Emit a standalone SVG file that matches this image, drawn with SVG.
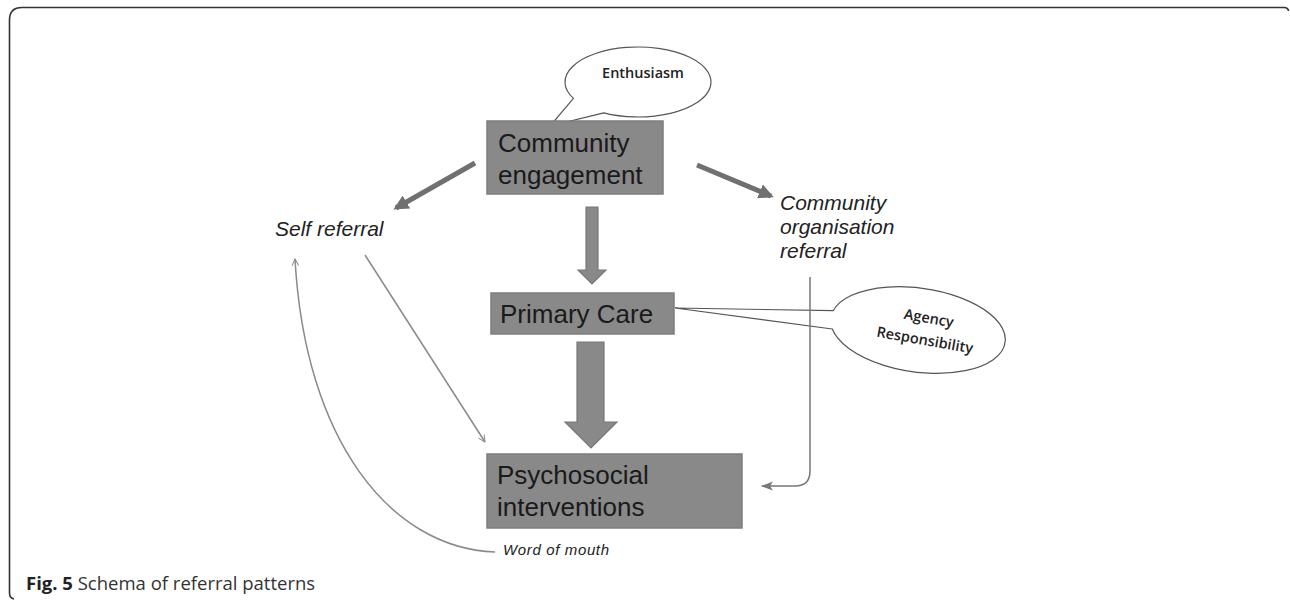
<svg xmlns="http://www.w3.org/2000/svg" width="1290" height="601" viewBox="0 0 1290 601">
<style>
.box{fill:#898989;stroke:#7d7d7d;stroke-width:1.5}
.bt{font-family:"Liberation Sans",Arial,sans-serif;font-size:26px;fill:#1a1a1a}
.it{font-family:"Liberation Sans",Arial,sans-serif;font-style:italic;font-size:21px;fill:#222}
.bub{fill:#fff;stroke:#555;stroke-width:1.2}
.bubt{font-family:"Open Sans","Noto Sans",sans-serif;font-size:14.5px;font-weight:600;fill:#222}
.thick{stroke:#707070;stroke-width:5;fill:none}
.thin{stroke:#8a8a8a;stroke-width:1.5;fill:none}
.block{fill:#898989;stroke:#777;stroke-width:1.2}
</style>
<defs>
<marker id="hd" viewBox="0 0 10 10" refX="8" refY="5" markerWidth="3" markerHeight="3" orient="auto" markerUnits="strokeWidth">
<path d="M0 0 L10 5 L0 10 Z" fill="#707070"/>
</marker>
<marker id="op" viewBox="0 0 12 12" refX="11" refY="6" markerWidth="8" markerHeight="8" orient="auto" markerUnits="userSpaceOnUse">
<path d="M1 1 L11 6 L1 11" fill="none" stroke="#8a8a8a" stroke-width="1.5"/>
</marker>
<marker id="fl" viewBox="0 0 12 12" refX="11" refY="6" markerWidth="12" markerHeight="12" orient="auto" markerUnits="userSpaceOnUse">
<path d="M0 1.5 L12 6 L0 10.5 L3 6 Z" fill="#777"/>
</marker>
</defs>
<rect width="1290" height="601" fill="#fff"/>
<path d="M14 599 Q9.5 598 9.5 593 L9.5 20 Q9.5 7.5 22 7.5 L1284 7.5 Q1288 7.5 1288.5 11" fill="none" stroke="#333" stroke-width="1.6"/>

<g id="enthusiasm">
<path class="bub" d="M603.7 112.9 L550 126 L573.5 98.4 A73 35 0 1 1 603.7 112.9 Z"/>
<text class="bubt" x="643" y="78" text-anchor="middle">Enthusiasm</text>
</g>
<g id="agency">
<path class="bub" d="M832.3 329 L675 308 L833.2 310.7 A88 42 8 1 1 832.3 329 Z"/>
<text class="bubt" transform="translate(928 323) rotate(10)" text-anchor="middle">Agency</text>
<text class="bubt" transform="translate(924 345) rotate(10)" text-anchor="middle">Responsibility</text>
</g>

<g id="community-engagement">
<rect class="box" x="487" y="121" width="176" height="73"/>
<text class="bt" x="498" y="152">Community</text>
<text class="bt" x="498" y="184">engagement</text>
</g>
<g id="primary-care">
<rect class="box" x="491" y="293" width="183" height="41"/>
<text class="bt" x="500" y="323">Primary Care</text>
</g>
<g id="psychosocial">
<rect class="box" x="487" y="454" width="255" height="74"/>
<text class="bt" x="497" y="484">Psychosocial</text>
<text class="bt" x="497" y="516">interventions</text>
</g>
<g id="self-referral">
<text class="it" x="275" y="236">Self referral</text>
</g>
<g id="community-organisation-referral">
<text class="it" x="780" y="210">Community</text>
<text class="it" x="780" y="234">organisation</text>
<text class="it" x="780" y="258">referral</text>
</g>
<g id="word-of-mouth">
<text class="it" x="503" y="555" style="font-size:15px" textLength="106">Word of mouth</text>
</g>

<g id="connectors">
<line class="thick" x1="475" y1="163" x2="396" y2="208" marker-end="url(#hd)"/>
<line class="thick" x1="697" y1="165" x2="771" y2="196" marker-end="url(#hd)"/>
<path class="block" d="M586 207 L598 207 L598 270 L606 270 L592 284 L578 270 L586 270 Z"/>
<path class="block" d="M577 342 L604 342 L604 422 L617 422 L591 448 L565 422 L577 422 Z"/>
<line class="thin" x1="365" y1="255" x2="485" y2="442" marker-end="url(#op)"/>
<path class="thin" d="M495 552 C390 548 305 440 295 259" marker-end="url(#op)"/>
<path d="M810 277 L810 471 Q810 486 795 486 L762 486" fill="none" stroke="#777" stroke-width="1.5" marker-end="url(#fl)"/>
</g>

<text x="26" y="590" font-family="'Open Sans','Noto Sans',sans-serif" font-size="18.5" fill="#333"><tspan font-weight="bold" fill="#222">Fig. 5</tspan> Schema of referral patterns</text>
</svg>
